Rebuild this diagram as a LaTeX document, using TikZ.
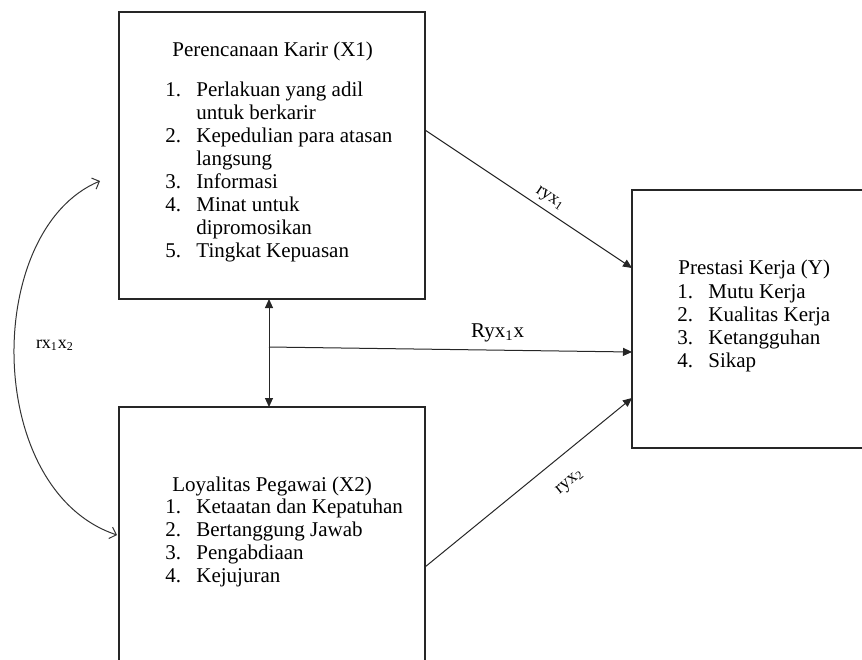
\documentclass[tikz,border=0pt]{standalone}
\usepackage{fontspec}
\setmainfont{Liberation Serif}
\usepackage{xcolor}
\usepackage{tikz}
\usetikzlibrary{arrows.meta}
\tikzstyle{kotak} = [rectangle, draw=black!85, line width=0.6pt, inner sep=0pt, outer sep=0pt]
\tikzstyle{judul} = [anchor=base west, inner sep=0pt, font=\fontsize{10.5}{11.5}\selectfont]
\tikzstyle{daftar} = [anchor=base west, inner sep=0pt, font=\fontsize{10.5}{11.5}\selectfont]
\tikzstyle{label} = [inner sep=1pt, font=\fontsize{9}{10}\selectfont]
\tikzstyle{arrow} = [line width=0.5pt, draw=black!85, -{Triangle[length=4.5pt,width=4pt]}]
\tikzstyle{kurva} = [line width=0.5pt, draw=black!80, {Straight Barb[length=3pt,width=6pt]}-{Straight Barb[length=3pt,width=6pt]}]
\newcommand{\nomor}[1]{\makebox[15.5pt][l]{#1}}

\begin{document}
\begin{tikzpicture}[x=0.5pt, y=-0.5pt]
        \useasboundingbox (0,0) rectangle (862,659);
        \clip (0,0) rectangle (862,659);
        % kotak variabel
        \node (x1) [kotak, minimum width=153pt, minimum height=143.5pt] at (272,155.5) {};
        \node (x2) [kotak, minimum width=153pt, minimum height=146.5pt] at (272,553.5) {};
        \node (y) [kotak, minimum width=119pt, minimum height=129pt] at (751,319) {};
        % isi X1
        \node (judulx1) [judul] at (172,56) {Perencanaan Karir (X1)};
        \node (isix1) [daftar] at (165,96) {\begin{tabular}[t]{@{}l@{}}
            \nomor{1.}Perlakuan yang adil\\
            \nomor{}untuk berkarir\\
            \nomor{2.}Kepedulian para atasan\\
            \nomor{}langsung\\
            \nomor{3.}Informasi\\
            \nomor{4.}Minat untuk\\
            \nomor{}dipromosikan\\
            \nomor{5.}Tingkat Kepuasan
        \end{tabular}};
        % isi X2
        \node (judulx2) [judul] at (172,491) {Loyalitas Pegawai (X2)};
        \node (isix2) [daftar] at (165,513) {\begin{tabular}[t]{@{}l@{}}
            \nomor{1.}Ketaatan dan Kepatuhan\\
            \nomor{2.}Bertanggung Jawab\\
            \nomor{3.}Pengabdiaan\\
            \nomor{4.}Kejujuran
        \end{tabular}};
        % isi Y
        \node (juduly) [judul] at (678,274) {Prestasi Kerja (Y)};
        \node (isiy) [daftar] at (677,298) {\begin{tabular}[t]{@{}l@{}}
            \nomor{1.}Mutu Kerja\\
            \nomor{2.}Kualitas Kerja\\
            \nomor{3.}Ketangguhan\\
            \nomor{4.}Sikap
        \end{tabular}};
        % panah
        \draw [arrow] (x1.east |- 0,130) -- (y.west |- 0,268)
            node [label, pos=0.57, sloped, above=1.5pt] {ryx\textsubscript{1}};
        \draw [arrow] (x2.east |- 0,567) -- (y.west |- 0,398)
            node [label, pos=0.62, sloped, below=9pt] {ryx\textsubscript{2}};
        \draw [arrow, {Triangle[length=4.5pt,width=4pt]}-{Triangle[length=4.5pt,width=4pt]}] (269,0 |- x1.south) -- (269,0 |- x2.north);
        \coordinate (tengah) at (269,347);
        \draw [arrow] (tengah) -- (y.west |- 0,352)
            node [label, pos=0.63, above=3pt, font=\fontsize{10.5}{11.5}\selectfont] {Ryx\textsubscript{1}x};
        % korelasi X1 dan X2
        \coordinate (ka) at (100,181);
        \coordinate (kb) at (117,535);
        \draw [kurva] (ka) .. controls (-17,230) and (-17,490) .. (kb);
        \node (korelasi) [label] at (55,345) {rx\textsubscript{1}x\textsubscript{2}};
    \end{tikzpicture}
\end{document}
